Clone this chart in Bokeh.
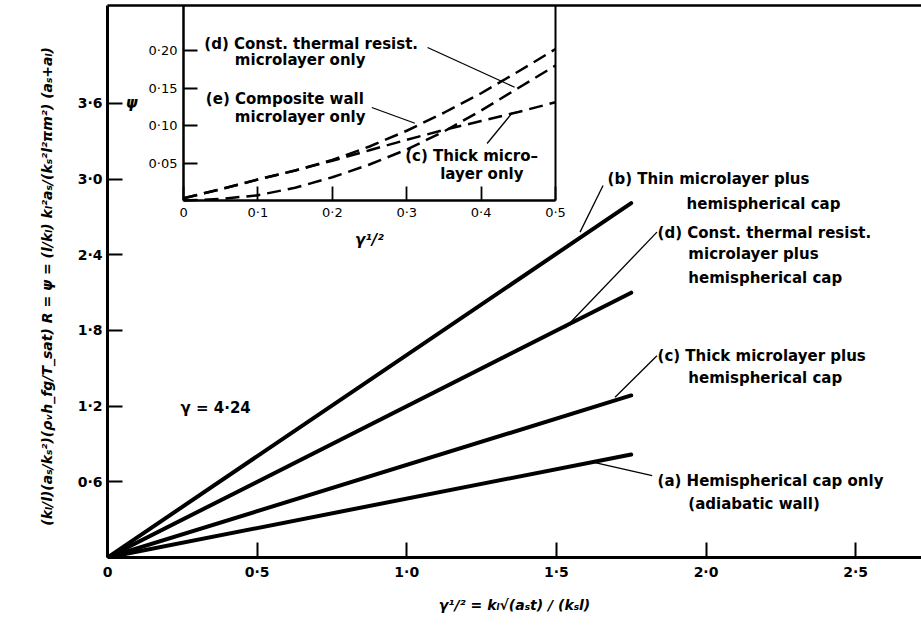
from bokeh.plotting import figure
from bokeh.models import Range1d, LinearAxis, FixedTicker, Label
from bokeh.embed import file_html
from bokeh.resources import INLINE

# ---------------- data: main chart (straight lines from origin) ----------------
main_x = [0.0, 1.75]
line_a = [0.0, 0.817]   # (a) Hemispherical cap only (adiabatic wall)
line_c = [0.0, 1.285]   # (c) Thick microlayer plus hemispherical cap
line_d = [0.0, 2.10]    # (d) Const. thermal resist. microlayer plus hemispherical cap
line_b = [0.0, 2.81]    # (b) Thin microlayer plus hemispherical cap

main_x_ticks = [0.0, 0.5, 1.0, 1.5, 2.0, 2.5]
main_x_labels = ["0", "0·5", "1·0", "1·5", "2·0", "2·5"]
main_y_ticks = [0.6, 1.2, 1.8, 2.4, 3.0, 3.6]
main_y_labels = ["0·6", "1·2", "1·8", "2·4", "3·0", "3·6"]

# ---------------- data: inset (microlayer only) ----------------
inset_x = [0.0, 0.05, 0.10, 0.15, 0.20, 0.25, 0.30, 0.35, 0.40, 0.45, 0.50]
inset_e = [0.003, 0.015, 0.028, 0.040, 0.054, 0.072, 0.093, 0.117, 0.143, 0.172, 0.202]  # (e) Composite wall
inset_c = [0.003, 0.015, 0.028, 0.040, 0.053, 0.067, 0.081, 0.094, 0.106, 0.118, 0.131]  # (c) Thick microlayer
inset_d = [0.0, 0.002, 0.007, 0.017, 0.031, 0.048, 0.068, 0.092, 0.120, 0.150, 0.180]    # (d) Const. thermal resist.

inset_x_ticks = [0.0, 0.1, 0.2, 0.3, 0.4, 0.5]
inset_x_labels = ["0", "0·1", "0·2", "0·3", "0·4", "0·5"]
inset_y_ticks = [0.05, 0.10, 0.15, 0.20]
inset_y_labels = ["0·05", "0·10", "0·15", "0·20"]

# leader lines (main data coords): x0, y0, x1, y1
lead_main_x0 = [1.656, 1.836, 1.836, 1.629]
lead_main_y0 = [2.95, 2.58, 1.60, 0.753]
lead_main_x1 = [1.579, 1.529, 1.696, 1.82]
lead_main_y1 = [2.58, 1.82, 1.27, 0.65]
# leader lines (inset coords)
lead_in_x0 = [0.328, 0.253, 0.408]
lead_in_y0 = [0.204, 0.124, 0.076]
lead_in_x1 = [0.445, 0.311, 0.442]
lead_in_y1 = [0.151, 0.103, 0.117]

FONT = "DejaVu Sans"

p = figure(width=921, height=632, output_backend="svg", toolbar_location=None,
           x_range=Range1d(0, 2.72), y_range=Range1d(0, 4.377),
           x_axis_type=None, y_axis_type=None,
           min_border_left=107, min_border_right=0, min_border_top=5, min_border_bottom=75)
p.background_fill_color = "white"
p.border_fill_color = "white"
p.outline_line_color = None
p.xgrid.visible = False
p.ygrid.visible = False

# ---- main axes ----
xax = LinearAxis(ticker=FixedTicker(ticks=main_x_ticks),
                 major_label_overrides=dict(zip(main_x_ticks, main_x_labels)),
                 axis_label="γ¹/² = kₗ√(aₛt) / (kₛl)")
yax = LinearAxis(ticker=FixedTicker(ticks=main_y_ticks),
                 major_label_overrides=dict(zip(main_y_ticks, main_y_labels)),
                 axis_label="(kₗ/l)(aₛ/kₛ²)(ρᵥh_fg/T_sat)   R = ψ = (l/kₗ) kₗ²aₛ/(kₛ²l²πm²) (aₛ+aₗ)")
for ax in (xax, yax):
    ax.axis_line_width = 3
    ax.axis_line_color = "black"
    ax.major_tick_in = 15
    ax.major_tick_out = 0
    ax.major_tick_line_width = 2
    ax.minor_tick_line_color = None
    ax.major_label_text_font = FONT
    ax.major_label_text_font_style = "bold"
    ax.major_label_text_font_size = "14px"
    ax.major_label_text_color = "black"
    ax.axis_label_text_font = "DejaVu Sans"
    ax.axis_label_text_font_style = "bold italic"
    ax.axis_label_text_color = "black"
xax.major_label_standoff = 6
xax.axis_label_standoff = 14
xax.axis_label_text_font_size = "14px"
yax.major_label_standoff = 5
yax.axis_label_standoff = 20
yax.axis_label_text_font_size = "14px"
p.add_layout(xax, "below")
p.add_layout(yax, "left")

top = LinearAxis(ticker=FixedTicker(ticks=[]), axis_line_width=2.5, axis_line_color="black",
                 major_tick_line_color=None, minor_tick_line_color=None,
                 major_label_text_font_size="0px", major_label_standoff=0)
p.add_layout(top, "above")

# ---- main lines ----
for ys in (line_a, line_c, line_d, line_b):
    p.line(main_x, ys, line_width=4, line_color="black", line_cap="round")
p.segment(lead_main_x0, lead_main_y0, lead_main_x1, lead_main_y1, line_width=1.3, line_color="black")

def lab(x, y, text, size="15px", **kw):
    p.add_layout(Label(x=x, y=y, text=text, text_font=FONT, text_font_style="bold",
                       text_font_size=size, text_color="black", text_baseline="middle", **kw))

lab(1.671, 3.003, "(b) Thin microlayer plus")
lab(1.935, 2.805, "hemispherical cap")
lab(1.838, 2.575, "(d) Const. thermal resist.")
lab(1.941, 2.409, "microlayer plus")
lab(1.941, 2.219, "hemispherical cap")
lab(1.838, 1.60, "(c) Thick microlayer plus")
lab(1.941, 1.426, "hemispherical cap")
lab(1.838, 0.61, "(a) Hemispherical cap only")
lab(1.941, 0.428, "(adiabatic wall)")
lab(0.244, 1.189, "γ = 4·24", size="15px")

# ---------------- inset ----------------
p.extra_x_ranges = {"ix": Range1d(-0.1022, 0.9919)}
p.extra_y_ranges = {"iy": Range1d(-0.476, 0.26)}

ixax = LinearAxis(x_range_name="ix", y_range_name="iy", fixed_location=0, bounds=(0, 0.5),
                  ticker=FixedTicker(ticks=inset_x_ticks),
                  major_label_overrides=dict(zip(inset_x_ticks, inset_x_labels)),
                  axis_label="γ¹/²")
iyax = LinearAxis(x_range_name="ix", y_range_name="iy", fixed_location=0, bounds=(0, 0.26),
                  ticker=FixedTicker(ticks=inset_y_ticks),
                  major_label_overrides=dict(zip(inset_y_ticks, inset_y_labels)),
                  axis_label="ψ", axis_label_orientation="horizontal")
for ax in (ixax, iyax):
    ax.axis_line_width = 2.5
    ax.axis_line_color = "black"
    ax.major_tick_in = 14
    ax.major_tick_out = 0
    ax.major_tick_line_width = 1.8
    ax.minor_tick_line_color = None
    ax.major_label_text_font = FONT
    ax.major_label_text_font_style = "normal"
    ax.major_label_text_font_size = "13px"
    ax.major_label_text_color = "black"
    ax.axis_label_text_font = "DejaVu Sans"
    ax.axis_label_text_font_style = "bold italic"
    ax.axis_label_text_font_size = "15px"
    ax.axis_label_text_color = "black"
ixax.major_label_standoff = 4
ixax.axis_label_standoff = 8
iyax.major_label_standoff = 6
iyax.axis_label_standoff = 8
p.add_layout(ixax, "below")
p.add_layout(iyax, "left")

iright = LinearAxis(x_range_name="ix", y_range_name="iy", fixed_location=0.5, bounds=(0, 0.26),
                    ticker=FixedTicker(ticks=[]), axis_line_width=2, axis_line_color="black",
                    major_tick_line_color=None, minor_tick_line_color=None,
                    major_label_text_font_size="0px")
p.add_layout(iright, "right")

for ys in (inset_e, inset_c, inset_d):
    p.line(inset_x, ys, x_range_name="ix", y_range_name="iy",
           line_width=2.5, line_color="black", line_dash="14 7")
p.segment(lead_in_x0, lead_in_y0, lead_in_x1, lead_in_y1, x_range_name="ix", y_range_name="iy",
          line_width=1.3, line_color="black")

def ilab(x, y, text):
    p.add_layout(Label(x=x, y=y, text=text, x_range_name="ix", y_range_name="iy",
                       text_font=FONT, text_font_style="bold", text_font_size="15px",
                       text_color="black", text_baseline="middle"))

ilab(0.028, 0.209, "(d) Const. thermal resist.")
ilab(0.069, 0.187, "microlayer only")
ilab(0.030, 0.136, "(e) Composite wall")
ilab(0.069, 0.111, "microlayer only")
ilab(0.298, 0.060, "(c) Thick micro–")
ilab(0.345, 0.035, "layer only")

open("out.html", "w").write(file_html(p, INLINE))
